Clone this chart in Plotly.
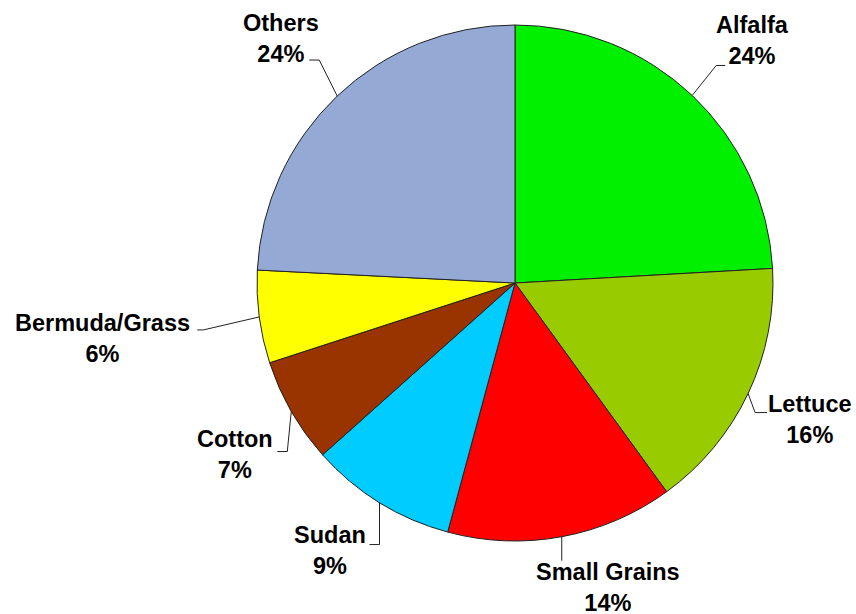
import math
import plotly.graph_objects as go

# ---- data ----
crops = ["Alfalfa", "Lettuce", "Small Grains", "Sudan", "Cotton", "Bermuda/Grass", "Others"]
shares = [24.1, 15.9, 14.2, 9.2, 6.6, 5.8, 24.2]
colors = ["#00F000", "#99CC00", "#FF0000", "#00CCFF", "#993300", "#FFFF00", "#94A9D3"]

# ---- layout constants (pixels) ----
W, H = 856, 614
CX, CY, R = 515, 283, 258

# leader-line style per label: elbow offset from slice edge midpoint, horizontal tail, text-centre offset from tail end
elbow_off = [(24, -30), (7, 19), (0, 24), (0, 42), (-4, 40), (-56, 13), (-18, -36)]
tail_len = [9, 12, 0, -10, -10, -6, -10]
text_off = [(27, -25), (43, 7), (46, 27), (-40, 6), (-42, 3), (-95, 9), (-28, -22)]


def px(x):
    return x / W


def py(y):
    return 1 - y / H


fig = go.Figure(go.Pie(
    labels=crops,
    values=shares,
    sort=False,
    direction="clockwise",
    rotation=0,
    marker=dict(colors=colors, line=dict(color="#222222", width=1)),
    textinfo="none",
    hoverinfo="label+percent",
    showlegend=False,
    domain=dict(x=[(CX - R) / W, (CX + R) / W], y=[(H - CY - R) / H, (H - CY + R) / H]),
))

total = sum(shares)
cum = 0.0
annotations = []
shapes = []
for i, (name, v) in enumerate(zip(crops, shares)):
    mid = (cum + v / 2) / total * 2 * math.pi
    cum += v
    ex = CX + R * math.sin(mid)
    ey = CY - R * math.cos(mid)
    bx = ex + elbow_off[i][0]
    by = ey + elbow_off[i][1]
    tx = bx + tail_len[i]
    ty = by
    path = f"M {px(ex)} {py(ey)} L {px(bx)} {py(by)} L {px(tx)} {py(ty)}"
    shapes.append(dict(type="path", xref="paper", yref="paper", path=path,
                       line=dict(color="#222222", width=1)))
    pct = round(v / total * 100)
    annotations.append(dict(
        xref="paper", yref="paper",
        x=px(tx + text_off[i][0]), y=py(ty + text_off[i][1]),
        xanchor="center", yanchor="middle",
        text=f"<b>{name}<br>{pct}%</b>",
        showarrow=False, align="center",
        font=dict(family="Liberation Sans, Arial, sans-serif", size=23.5, color="#000000"),
    ))

fig.update_layout(
    width=W, height=H,
    margin=dict(l=0, r=0, t=0, b=0),
    paper_bgcolor="white",
    plot_bgcolor="white",
    annotations=annotations,
    shapes=shapes,
)

fig.write_html(
    "out.html",
    config={"displayModeBar": False},
    post_script="document.body.style.margin='0';document.body.style.overflow='hidden';",
)
